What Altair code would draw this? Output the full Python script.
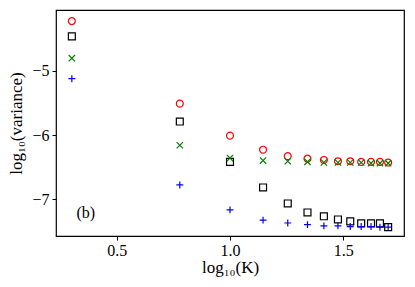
import altair as alt
import pandas as pd

K = [2, 6, 10, 14, 18, 22, 26, 30, 34, 38, 42, 46, 50]
circle_vals = [-4.22, -5.51, -6.01, -6.23, -6.33, -6.37, -6.39, -6.41, -6.41, -6.42, -6.42, -6.42, -6.43]
square_vals = [-4.46, -5.79, -6.42, -6.82, -7.07, -7.21, -7.27, -7.32, -7.35, -7.38, -7.38, -7.38, -7.44]
xmark_vals = [-4.80, -6.16, -6.36, -6.40, -6.41, -6.42, -6.43, -6.43, -6.43, -6.43, -6.44, -6.44, -6.44]
plus_vals = [-5.12, -6.78, -7.17, -7.33, -7.375, -7.40, -7.42, -7.42, -7.43, -7.43, -7.43, -7.44, -7.44]

x_domain = [0.231, 1.769]
y_domain = [-7.578, -4.047]
FONT = "Liberation Serif"

df = pd.DataFrame({
    "K": K,
    "circle": circle_vals,
    "square": square_vals,
    "xmark": xmark_vals,
    "plus": plus_vals,
})

base = alt.Chart(df).transform_calculate(logK="log(datum.K)/LN10")

xenc = alt.X("logK:Q", scale=alt.Scale(domain=x_domain, nice=False, zero=False),
             axis=alt.Axis(values=[0.5, 1.0, 1.5], format=".1f", title="log₁₀(K)",
                           grid=False, domain=False, tickColor="black", tickSize=4,
                           labelFont=FONT, labelFontSize=16, labelColor="black",
                           labelPadding=2, titleFont=FONT, titleFontSize=17,
                           titleFontWeight="normal", titleColor="black", titlePadding=1))

def yenc(field):
    return alt.Y(field + ":Q", scale=alt.Scale(domain=y_domain, nice=False, zero=False),
                 axis=alt.Axis(values=[-7, -6, -5], format="d", title="log₁₀(variance)",
                               grid=False, domain=False, tickColor="black", tickSize=4,
                               labelFont=FONT, labelFontSize=16, labelColor="black",
                               labelPadding=3, titleFont=FONT, titleFontSize=17,
                               titleFontWeight="normal", titleColor="black", titlePadding=6))

circles = base.mark_point(shape="circle", filled=False, color="red", size=48, strokeWidth=1.2, opacity=1).encode(
    x=xenc, y=yenc("circle"))
squares = base.mark_point(shape="square", filled=False, color="black", size=48, strokeWidth=1.2, opacity=1).encode(
    x=xenc, y=yenc("square"))
xmarks = base.mark_point(shape="M-1,-1L1,1M-1,1L1,-1", filled=False, color="green", size=40, strokeWidth=1.2, opacity=1).encode(
    x=xenc, y=yenc("xmark"))
pluses = base.mark_point(shape="M-1,0L1,0M0,-1L0,1", filled=False, color="blue", size=48, strokeWidth=1.2, opacity=1).encode(
    x=xenc, y=yenc("plus"))

label_df = pd.DataFrame({"lx": [0.363], "ly": [-7.22], "t": ["(b)"]})
label = alt.Chart(label_df).mark_text(font=FONT, fontSize=16, color="black").encode(
    x=alt.X("lx:Q", scale=alt.Scale(domain=x_domain, nice=False, zero=False)),
    y=alt.Y("ly:Q", scale=alt.Scale(domain=y_domain, nice=False, zero=False)),
    text="t:N")

chart = alt.layer(circles, squares, xmarks, pluses, label).properties(
    width=348, height=226,
    autosize=alt.AutoSizeParams(type="none"),
    padding={"left": 48, "top": 2, "right": 3, "bottom": 43},
).configure_view(stroke="black", strokeWidth=1.2)

chart.save("out.html", embed_options={"renderer": "svg", "actions": False})
